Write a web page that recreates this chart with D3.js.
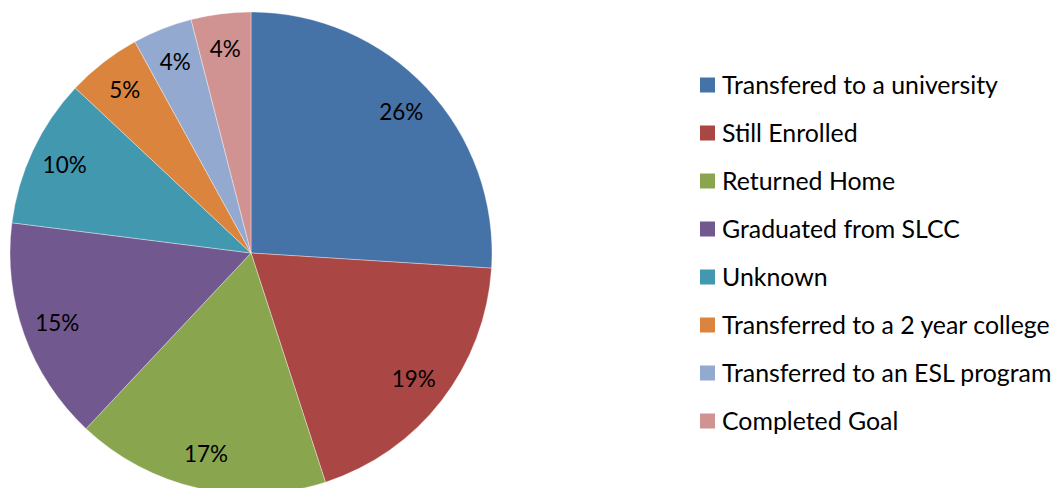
<!DOCTYPE html>
<html><head><meta charset="utf-8">
<script src="https://cdn.jsdelivr.net/npm/d3@7"></script>
<style>html,body{margin:0;padding:0;background:#fff;}svg{display:block;}</style>
</head><body>
<script>
const categories = ["Transfered to a university","Still Enrolled","Returned Home","Graduated from SLCC","Unknown","Transferred to a 2 year college","Transferred to an ESL program","Completed Goal"];
const values = [26,19,17,15,10,5,4,4];
const colors = ["#4572A7","#AA4643","#89A54E","#71588F","#4198AF","#DB843D","#93A9CF","#D19392"];

const W=1056,H=488;
const svg=d3.select("body").append("svg").attr("width",W).attr("height",H);
const font="Lato, 'Noto Sans', sans-serif";
const cx=251, cy=253, R=241, labelR=206;

const pie=d3.pie().sort(null).value(d=>d);
const arcs=pie(values);
const arc=d3.arc().innerRadius(0).outerRadius(R);
const larc=d3.arc().innerRadius(labelR).outerRadius(labelR);
const color=d3.scaleOrdinal().domain(categories).range(colors);

const g=svg.append("g").attr("transform",`translate(${cx},${cy})`);
g.selectAll("path").data(arcs).join("path")
  .attr("d",arc).attr("fill",(d,i)=>color(categories[i]))
  .attr("stroke","#ffffff").attr("stroke-width",0.6).attr("stroke-opacity",0.6);

function fitSize(text,target,base){
  const t=svg.append("text").attr("font-family",font).attr("font-size",base).text(text);
  const w=t.node().getComputedTextLength(); t.remove();
  return base*target/w;
}
const labelSize=fitSize("26%",44,24);
const legendSize=fitSize("Transfered to a university",276,24);

g.selectAll("text.lab").data(arcs).join("text").attr("class","lab")
  .attr("transform",d=>`translate(${larc.centroid(d)})`)
  .attr("text-anchor","middle").attr("dy","0.36em")
  .attr("font-family",font).attr("font-size",labelSize).attr("fill","#000")
  .text(d=>Math.round(d.value)+"%");

const leg=svg.append("g").attr("transform","translate(700,85)");
const rows=leg.selectAll("g").data(categories).join("g")
  .attr("transform",(d,i)=>`translate(0,${i*48})`);
rows.append("rect").attr("x",0).attr("y",-7.5).attr("width",15).attr("height",15).attr("fill",d=>color(d));
rows.append("text").attr("x",22).attr("dy","0.36em").attr("font-family",font).attr("font-size",legendSize).attr("fill","#000").text(d=>d);
</script>
</body></html>
